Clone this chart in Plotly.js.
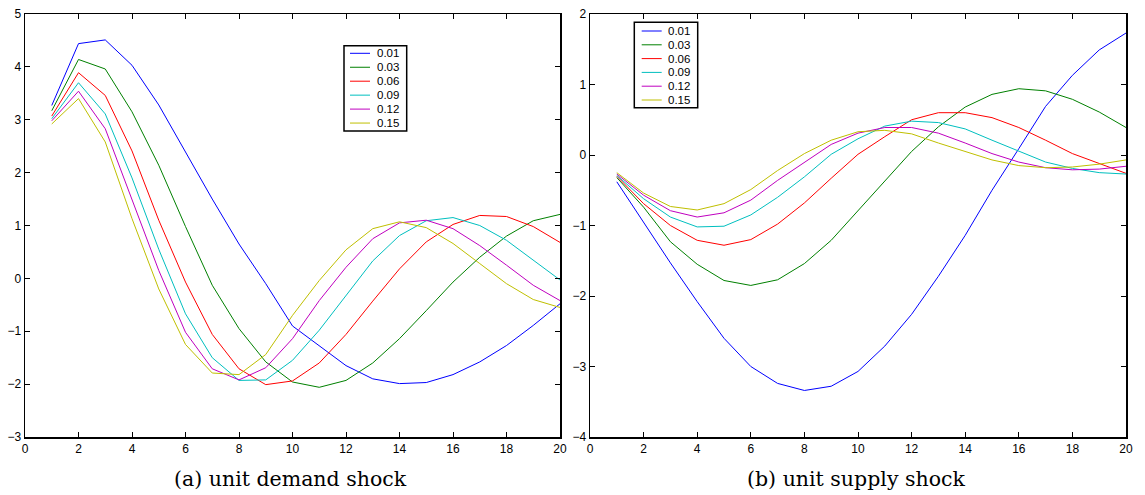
<!DOCTYPE html>
<html><head><meta charset="utf-8">
<script src="https://cdn.plot.ly/plotly-3.0.1.min.js"></script>
<style>html,body{margin:0;padding:0;background:#fff}#chart{width:1145px;height:495px}</style>
</head><body><div id="chart"></div>
<script>
// ---- data ----
const horizon = [1,2,3,4,5,6,7,8,9,10,11,12,13,14,15,16,17,18,19,20];
const shockSizes = ['0.01','0.03','0.06','0.09','0.12','0.15'];
const lineColors = ['#0000ff','#008000','#ff0000','#00bfbf','#bf00bf','#bfbf00'];
const panelCaptions = ['(a) unit demand shock','(b) unit supply shock'];
const xTicks = [0,2,4,6,8,10,12,14,16,18,20];

const demand001 = [3.27,4.44,4.51,4.03,3.28,2.4,1.5,0.65,-0.1,-0.9,-1.27,-1.65,-1.9,-1.99,-1.97,-1.82,-1.58,-1.27,-0.89,-0.48];
const demand003 = [3.17,4.14,3.96,3.15,2.14,0.98,-0.13,-0.95,-1.58,-1.96,-2.06,-1.93,-1.6,-1.14,-0.61,-0.07,0.4,0.8,1.09,1.21];
const demand006 = [3.07,3.89,3.46,2.41,1.1,-0.07,-1.06,-1.71,-2.01,-1.94,-1.6,-1.06,-0.43,0.18,0.69,1.02,1.19,1.17,0.98,0.68];
const demand009 = [3.02,3.7,3.11,1.9,0.55,-0.67,-1.5,-1.93,-1.92,-1.55,-0.98,-0.32,0.33,0.81,1.09,1.15,1.0,0.72,0.34,-0.03];
const demand012 = [2.98,3.54,2.83,1.5,0.15,-1.02,-1.71,-1.92,-1.69,-1.14,-0.42,0.21,0.75,1.05,1.1,0.94,0.62,0.25,-0.13,-0.42];
const demand015 = [2.92,3.4,2.58,1.13,-0.2,-1.25,-1.79,-1.82,-1.44,-0.7,-0.04,0.54,0.94,1.07,0.96,0.66,0.28,-0.1,-0.4,-0.55];

const supply001 = [-0.38,-0.96,-1.53,-2.08,-2.6,-3.0,-3.24,-3.34,-3.28,-3.07,-2.71,-2.26,-1.72,-1.14,-0.5,0.09,0.69,1.13,1.49,1.73];
const supply003 = [-0.32,-0.74,-1.23,-1.55,-1.78,-1.85,-1.77,-1.54,-1.21,-0.79,-0.38,0.05,0.4,0.68,0.86,0.94,0.91,0.79,0.61,0.39];
const supply006 = [-0.3,-0.69,-1.0,-1.21,-1.28,-1.2,-0.98,-0.68,-0.33,0.01,0.26,0.5,0.6,0.6,0.53,0.39,0.21,0.02,-0.12,-0.26];
const supply009 = [-0.29,-0.62,-0.88,-1.02,-1.01,-0.85,-0.6,-0.31,0.01,0.23,0.41,0.48,0.46,0.37,0.21,0.05,-0.1,-0.19,-0.25,-0.27];
const supply012 = [-0.27,-0.57,-0.79,-0.88,-0.82,-0.64,-0.36,-0.1,0.15,0.31,0.39,0.39,0.31,0.17,0.02,-0.1,-0.18,-0.21,-0.2,-0.16];
const supply015 = [-0.25,-0.54,-0.73,-0.78,-0.69,-0.49,-0.22,0.02,0.21,0.33,0.35,0.3,0.17,0.05,-0.07,-0.15,-0.18,-0.17,-0.13,-0.07];

const demandSeries = [demand001,demand003,demand006,demand009,demand012,demand015];
const supplySeries = [supply001,supply003,supply006,supply009,supply012,supply015];

// ---- layout helpers ----
const W = 1145, H = 495;
const px = v => v / W;
const py = v => 1 - v / H;

const traces = [];
demandSeries.forEach((ys, i) => traces.push({
  x: horizon, y: ys, type: 'scatter', mode: 'lines', name: shockSizes[i],
  xaxis: 'x', yaxis: 'y', showlegend: false, line: {color: lineColors[i], width: 1}
}));
supplySeries.forEach((ys, i) => traces.push({
  x: horizon, y: ys, type: 'scatter', mode: 'lines', name: shockSizes[i],
  xaxis: 'x2', yaxis: 'y2', showlegend: false, line: {color: lineColors[i], width: 1}
}));

const tickFont = {family: 'Liberation Sans, Arial, sans-serif', size: 12, color: '#000'};
function axisStyle(extra) {
  return Object.assign({
    showline: true, linecolor: '#000', linewidth: 1.5, mirror: 'ticks',
    ticks: 'inside', ticklen: 5, tickwidth: 1, tickcolor: '#000',
    showgrid: false, zeroline: false, tickfont: tickFont, fixedrange: true
  }, extra);
}

const shapes = [], annotations = [];
function addLegend(left, top, right, bottom, lineX0, lineX1, textX, rowY0, rowStep) {
  shapes.push({type: 'rect', xref: 'paper', yref: 'paper',
    x0: px(left), x1: px(right), y0: py(bottom), y1: py(top),
    line: {color: '#000', width: 1.5}, fillcolor: '#fff', layer: 'above'});
  shockSizes.forEach((name, i) => {
    const yy = rowY0 + i * rowStep;
    shapes.push({type: 'line', xref: 'paper', yref: 'paper',
      x0: px(lineX0), x1: px(lineX1), y0: py(yy), y1: py(yy),
      line: {color: lineColors[i], width: 1}, layer: 'above'});
    annotations.push({xref: 'paper', yref: 'paper', x: px(textX), y: py(yy),
      xanchor: 'left', yanchor: 'middle', showarrow: false, text: name,
      font: {family: 'Liberation Sans, Arial, sans-serif', size: 11.5, color: '#000'}});
  });
}
addLegend(344, 45.7, 406.7, 131, 350, 370, 375, 53.3, 13.95);
addLegend(634.3, 22.3, 697.7, 107.7, 641.7, 661.7, 666, 31, 13.8);

const captionCenters = [290, 856];
panelCaptions.forEach((t, i) => annotations.push({
  xref: 'paper', yref: 'paper', x: px(captionCenters[i]), y: py(479),
  xanchor: 'center', yanchor: 'middle', showarrow: false, text: t,
  font: {family: 'DejaVu Serif, serif', size: 20.5, color: '#000'}
}));

const layout = {
  width: W, height: H,
  margin: {l: 0, r: 0, t: 0, b: 0},
  paper_bgcolor: '#fff', plot_bgcolor: '#fff',
  showlegend: false,
  xaxis: axisStyle({domain: [px(25), px(560)], range: [0, 20], tickvals: xTicks, anchor: 'y'}),
  yaxis: axisStyle({domain: [py(437), py(14)], range: [-3, 5], dtick: 1, anchor: 'x'}),
  xaxis2: axisStyle({domain: [px(590), px(1126)], range: [0, 20], tickvals: xTicks, anchor: 'y2'}),
  yaxis2: axisStyle({domain: [py(437), py(14)], range: [-4, 2], dtick: 1, anchor: 'x2'}),
  shapes: shapes,
  annotations: annotations
};

Plotly.newPlot('chart', traces, layout, {displayModeBar: false, staticPlot: true});
</script>
</body></html>
